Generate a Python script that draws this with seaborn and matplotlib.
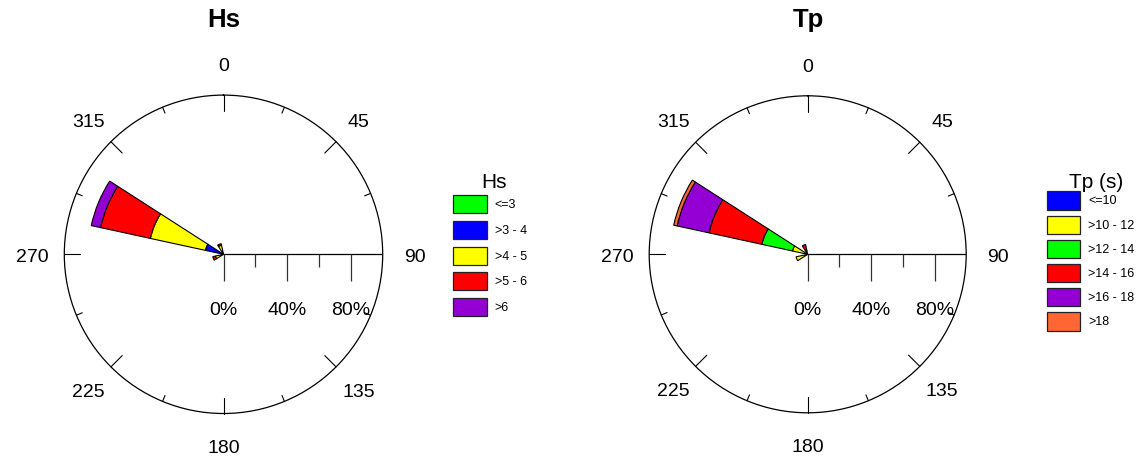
import numpy as np
import pandas as pd
import matplotlib
matplotlib.use("Agg")
import matplotlib.pyplot as plt
from matplotlib.patches import Rectangle
from matplotlib.path import Path
import seaborn as sns

# ---- data: % of records per direction sector, split by class ----
sector_dirs = [247.5, 292.5, 337.5]

hs_classes = ["<=3", ">3 - 4", ">4 - 5", ">5 - 6", ">6"]
hs_colors = ["#00FF00", "#0000FF", "#FFFF00", "#FF0000", "#9400D3"]
hs_dir_247 = [0.0, 0.5, 4.7, 1.7, 0.0]
hs_dir_292 = [0.3, 11.4, 35.3, 32.0, 6.0]
hs_dir_337 = [0.0, 0.5, 5.3, 1.0, 0.0]

tp_classes = ["<=10", ">10 - 12", ">12 - 14", ">14 - 16", ">16 - 18", ">18"]
tp_colors = ["#0000FF", "#FFFF00", "#00FF00", "#FF0000", "#9400D3", "#FF6633"]
tp_dir_247 = [0.3, 7.2, 0.0, 0.0, 0.0, 0.0]
tp_dir_292 = [0.3, 9.5, 19.8, 34.1, 20.6, 2.2]
tp_dir_337 = [0.0, 2.5, 0.8, 3.0, 0.0, 0.0]

radial_ticks = [0, 20, 40, 60, 80]
radial_labels = {0: "0%", 40: "40%", 80: "80%"}
compass_labels = [0, 45, 90, 135, 180, 225, 270, 315]


def to_long(classes, rows):
    recs = []
    for d, vals in zip(sector_dirs, rows):
        for c, v in zip(classes, vals):
            recs.append({"dir": d, "cls": c, "freq": v})
    return pd.DataFrame(recs)


hs_df = to_long(hs_classes, [hs_dir_247, hs_dir_292, hs_dir_337])
tp_df = to_long(tp_classes, [tp_dir_247, tp_dir_292, tp_dir_337])

# ---- style ----
sns.set_theme(style="white")
plt.rcParams["font.family"] = ["Liberation Sans", "DejaVu Sans"]

W, H = 1144, 460
fig = plt.figure(figsize=(W / 100, H / 100), dpi=100)
fig.patch.set_facecolor("white")

# overlay in pixel coordinates for titles and legends
ov = fig.add_axes([0, 0, 1, 1])
ov.set_xlim(0, W)
ov.set_ylim(H, 0)
ov.axis("off")
ov.patch.set_visible(False)

SECTOR_W = np.deg2rad(20.5)
tick_marker = Path([(0, 0), (0, -1)])


def polar_axes(cx, cy, R):
    ax = fig.add_axes([(cx - R) / W, (H - cy - R) / H, 2 * R / W, 2 * R / H],
                      projection="polar")
    ax.set_theta_zero_location("N")
    ax.set_theta_direction(-1)
    ax.set_ylim(0, 100)
    ax.grid(False)
    ax.set_xticks([])
    ax.set_yticks([])
    ax.spines["polar"].set_color("black")
    ax.spines["polar"].set_linewidth(0.9)
    ax.set_facecolor("white")
    return ax


def draw_rose(ax, df, classes, colors):
    pal = dict(zip(classes, sns.color_palette(colors)))
    for d, grp in df.groupby("dir", sort=True):
        bottom = 0.0
        for c in classes:
            v = float(grp.loc[grp["cls"] == c, "freq"].iloc[0])
            if v > 0:
                ax.bar(np.deg2rad(d), v, width=SECTOR_W, bottom=bottom,
                       color=pal[c], edgecolor="black", linewidth=0.8,
                       align="center", zorder=3)
            bottom += v

    # circle ticks every 22.5 deg
    for a in np.arange(0, 360, 22.5):
        if a == 90:
            continue
        L = 10 if a % 45 == 0 else 4
        ax.plot([np.deg2rad(a)] * 2, [100 - L, 100], color="black",
                lw=0.8, clip_on=False, zorder=2)

    # radial axis along 90 deg
    th = np.deg2rad(90)
    ax.plot([th, th], [0, 100], color="black", lw=0.9, zorder=2)
    for r in radial_ticks:
        long_tick = r in radial_labels
        ax.plot([th], [r], marker=tick_marker, markersize=38.4 if long_tick else 19.2,
                markeredgecolor="#333333", markerfacecolor="none",
                markeredgewidth=0.9, linestyle="none", clip_on=False, zorder=2)
        if long_tick:
            ax.annotate(radial_labels[r], xy=(th, r), xytext=(0, -60),
                        textcoords="offset pixels", ha="center", va="baseline",
                        fontsize=14, color="black", annotation_clip=False)

    for a in compass_labels:
        ax.text(np.deg2rad(a), 120, str(a), ha="center", va="center_baseline",
                fontsize=14, color="black", clip_on=False)


def draw_legend(x0, top0, step, bw, bh, title, title_x, classes, colors):
    ov.text(title_x, 188, title, ha="center", va="baseline", fontsize=15,
            color="black")
    for i, (c, col) in enumerate(zip(classes, colors)):
        y = top0 + i * step
        ov.add_patch(Rectangle((x0, y), bw, bh, facecolor=col,
                               edgecolor="#222222", linewidth=0.9))
        ov.text(x0 + bw + 8, y + bh / 2, c, ha="left", va="center",
                fontsize=9, color="black")


ax1 = polar_axes(223.5, 255.3, 159.2)
draw_rose(ax1, hs_df, hs_classes, hs_colors)
ax2 = polar_axes(807.7, 255.3, 158.5)
draw_rose(ax2, tp_df, tp_classes, tp_colors)

ov.text(223.3, 27.3, "Hs", ha="center", va="baseline", fontsize=18.5,
        fontweight="bold", color="black")
ov.text(808, 27.3, "Tp", ha="center", va="baseline", fontsize=18.5,
        fontweight="bold", color="black")

draw_legend(453.3, 196, 25.8, 33.4, 18, "Hs", 494, hs_classes, hs_colors)
draw_legend(1046.7, 192.3, 24.2, 33.3, 18.3, "Tp (s)", 1096, tp_classes, tp_colors)

fig.savefig("out.png", dpi=100, facecolor="white")
